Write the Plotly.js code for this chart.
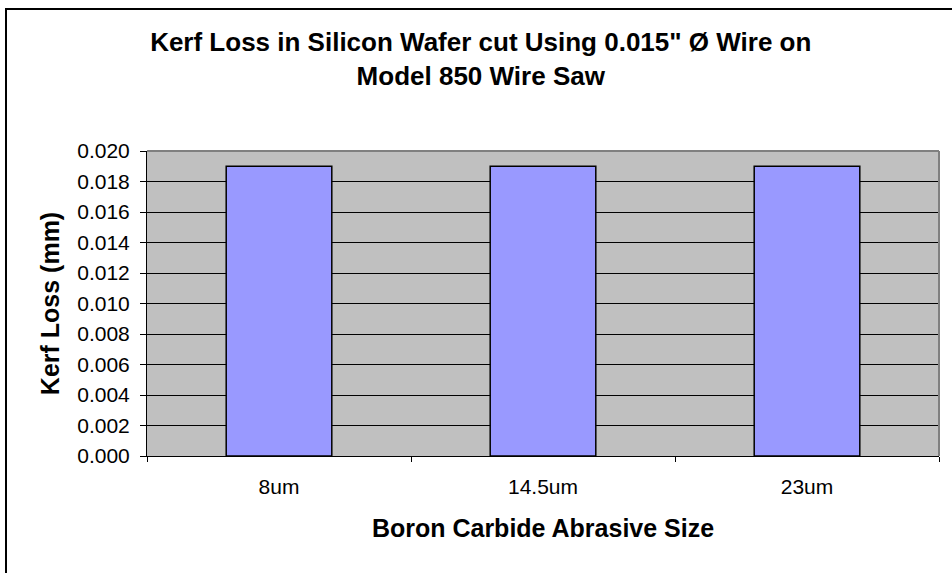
<!DOCTYPE html>
<html>
<head>
<meta charset="utf-8">
<script src="https://cdn.plot.ly/plotly-3.0.1.min.js"></script>
<style>
  html, body { margin: 0; padding: 0; background: #ffffff; }
  #chart { width: 952px; height: 573px; }
</style>
</head>
<body>
<div id="chart"></div>
<script>
const categories = ["8um", "14.5um", "23um"];
const kerfLoss = [0.019, 0.019, 0.019];
const yTickValues = [0, 0.002, 0.004, 0.006, 0.008, 0.010, 0.012, 0.014, 0.016, 0.018, 0.020];
const chartTitle = "Kerf Loss in Silicon Wafer cut Using 0.015\" Ø Wire on<br>Model 850 Wire Saw";
const xTitle = "Boron Carbide Abrasive Size";
const yTitle = "Kerf Loss (mm)";

const FONT = "Arial, 'Liberation Sans', sans-serif";

const trace = {
  type: "bar",
  x: categories,
  y: kerfLoss,
  marker: { color: "#9999FF", line: { color: "#000000", width: 1.5 } },
  hoverinfo: "x+y"
};

const layout = {
  width: 952,
  height: 573,
  margin: { l: 147, r: 13, t: 151, b: 117 },
  paper_bgcolor: "#ffffff",
  plot_bgcolor: "#C0C0C0",
  bargap: 0.6,
  showlegend: false,
  font: { family: FONT, color: "#000000" },
  title: {
    text: chartTitle,
    font: { family: FONT, size: 26, color: "#000000", weight: "bold" },
    x: 0.505, xanchor: "center",
    y: 1 - 51 / 573, yanchor: "middle", yref: "container"
  },
  xaxis: {
    type: "category",
    showgrid: false,
    showline: true, linecolor: "#000000", linewidth: 1,
    ticks: "outside", tickson: "boundaries", ticklen: 5, tickcolor: "#000000", tickwidth: 1,
    tickfont: { family: FONT, size: 21, color: "#000000" },
    ticklabelstandoff: 12,
    title: { text: xTitle, font: { family: FONT, size: 25, color: "#000000", weight: "bold" }, standoff: 22 },
    automargin: false,
    zeroline: false
  },
  yaxis: {
    range: [0, 0.020],
    tickvals: yTickValues,
    tickformat: ".3f",
    showgrid: true, gridcolor: "#000000", gridwidth: 1,
    showline: true, linecolor: "#000000", linewidth: 1,
    ticks: "outside", ticklen: 6, tickcolor: "#000000", tickwidth: 1,
    tickfont: { family: FONT, size: 21, color: "#000000" },
    ticklabelstandoff: 6,
    title: { text: yTitle, font: { family: FONT, size: 25, color: "#000000", weight: "bold" }, standoff: 10 },
    automargin: false,
    zeroline: true, zerolinecolor: "#000000", zerolinewidth: 1
  },
  shapes: [
    {
      type: "rect", xref: "paper", yref: "paper",
      x0: (6 - 147) / 792, x1: 1.06, y0: -0.6, y1: 1 + (151 - 9) / 305,
      line: { color: "#000000", width: 2 }, fillcolor: "rgba(0,0,0,0)", layer: "above"
    },
    {
      type: "line", xref: "paper", yref: "paper",
      x0: 0, x1: 1, y0: 1, y1: 1,
      line: { color: "#808080", width: 2 }, layer: "above"
    },
    {
      type: "line", xref: "paper", yref: "paper",
      x0: 1, x1: 1, y0: 0, y1: 1,
      line: { color: "#808080", width: 2 }, layer: "above"
    }
  ]
};

Plotly.newPlot("chart", [trace], layout, { displayModeBar: false, staticPlot: true });
</script>
</body>
</html>
